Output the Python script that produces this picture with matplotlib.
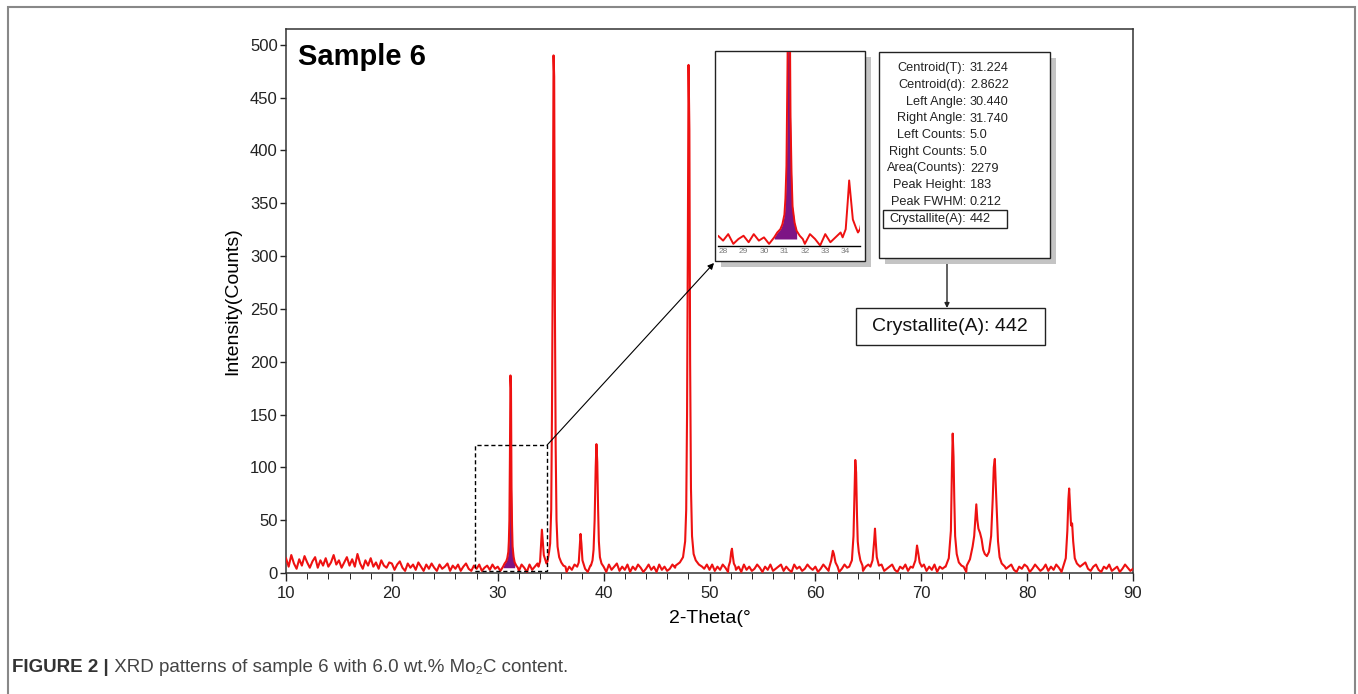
import matplotlib.pyplot as plt
import numpy as np
from matplotlib.patches import Rectangle

# background counts, 0.25 deg steps from 10 to 90
bg_10_20 = [14, 6, 17, 9, 4, 13, 7, 16, 10, 5, 11, 15, 5, 12, 7, 14, 6, 10, 17, 8,
            12, 5, 10, 15, 7, 13, 6, 18, 9, 4, 12, 7, 14, 6, 10, 4, 12, 7, 5, 10]
bg_20_30 = [9, 3, 8, 11, 5, 2, 9, 5, 8, 3, 10, 6, 2, 8, 4, 9, 5, 2, 8, 4,
            6, 9, 2, 7, 4, 8, 2, 6, 9, 4, 2, 7, 4, 8, 2, 5, 7, 3, 8, 4]
bg_30_40 = [6, 2, 8, 4, 9, 2, 7, 4, 2, 8, 5, 1, 8, 3, 6, 9, 2, 5, 8, 1,
            6, 3, 8, 4, 2, 7, 1, 6, 3, 8, 5, 2, 9, 4, 1, 7, 3, 6, 8, 2]
bg_40_50 = [6, 1, 8, 3, 6, 9, 2, 6, 3, 8, 1, 6, 3, 8, 5, 1, 4, 8, 3, 6,
            1, 8, 3, 6, 2, 4, 8, 5, 1, 6, 8, 3, 6, 2, 8, 3, 6, 1, 4, 8]
bg_50_60 = [3, 8, 2, 6, 3, 8, 5, 1, 4, 8, 3, 6, 1, 8, 3, 6, 2, 4, 8, 5,
            1, 6, 3, 8, 2, 4, 6, 8, 2, 6, 3, 1, 8, 4, 6, 2, 4, 8, 5, 3]
bg_60_70 = [6, 1, 4, 8, 5, 2, 8, 3, 6, 1, 4, 8, 5, 3, 1, 8, 3, 6, 2, 6,
            8, 3, 1, 6, 4, 8, 2, 4, 6, 8, 3, 1, 6, 4, 8, 2, 6, 3, 8, 4]
bg_70_80 = [3, 8, 2, 6, 3, 8, 1, 6, 4, 6, 8, 3, 2, 6, 8, 3, 6, 1, 4, 8,
            5, 2, 4, 8, 6, 3, 8, 2, 6, 4, 8, 1, 4, 6, 8, 3, 1, 6, 4, 8]
bg_80_90 = [6, 1, 4, 8, 5, 2, 4, 8, 2, 6, 3, 8, 5, 1, 4, 8, 3, 9, 4, 10,
            5, 8, 10, 4, 2, 6, 8, 3, 1, 6, 4, 8, 2, 4, 6, 1, 4, 8, 5, 2, 4]

# peak profiles (2-theta, counts)
pk_31 = [(30.5, 6), (30.65, 9), (30.8, 11), (30.9, 14), (31.0, 20), (31.05, 30),
         (31.1, 50), (31.15, 110), (31.2, 187), (31.25, 175), (31.3, 80),
         (31.35, 45), (31.4, 25), (31.5, 15), (31.6, 10), (31.75, 7), (31.9, 5)]
pk_35 = [(33.85, 6), (34.0, 11), (34.1, 28), (34.17, 41), (34.25, 30), (34.35, 17),
         (34.5, 12), (34.6, 9), (34.7, 11), (34.85, 20), (34.95, 28), (35.05, 60),
         (35.12, 150), (35.2, 300), (35.27, 490), (35.33, 470), (35.4, 250),
         (35.47, 120), (35.55, 50), (35.65, 25), (35.8, 15), (36.0, 10), (36.2, 7),
         (36.4, 6)]
pk_38 = [(37.5, 6), (37.65, 10), (37.75, 25), (37.82, 37), (37.9, 28), (38.0, 12),
         (38.15, 7)]
pk_39 = [(38.8, 7), (38.95, 12), (39.05, 22), (39.15, 50), (39.25, 100), (39.32, 122),
         (39.4, 105), (39.48, 60), (39.55, 30), (39.65, 15), (39.8, 9), (40.0, 6)]
pk_48 = [(46.8, 7), (47.2, 10), (47.5, 15), (47.7, 30), (47.8, 60), (47.88, 150),
         (47.95, 300), (48.02, 481), (48.1, 420), (48.17, 200), (48.25, 80),
         (48.35, 35), (48.5, 18), (48.7, 12), (49.0, 8), (49.3, 6)]
pk_52 = [(51.8, 6), (51.95, 11), (52.05, 20), (52.12, 23), (52.2, 16), (52.3, 9),
         (52.45, 6)]
pk_62 = [(61.3, 5), (61.5, 12), (61.65, 21), (61.75, 18), (61.9, 10), (62.1, 6)]
pk_64 = [(63.2, 6), (63.45, 12), (63.6, 35), (63.7, 80), (63.77, 107), (63.85, 95),
         (63.93, 55), (64.0, 30), (64.1, 20), (64.25, 12), (64.45, 7)]
pk_66 = [(65.2, 6), (65.4, 12), (65.55, 30), (65.63, 42), (65.7, 30), (65.8, 15),
         (66.0, 7)]
pk_70 = [(69.2, 5), (69.45, 12), (69.6, 26), (69.7, 20), (69.85, 10), (70.05, 6)]
pk_73 = [(72.3, 6), (72.6, 14), (72.8, 40), (72.9, 100), (72.97, 132), (73.05, 110),
         (73.12, 70), (73.2, 35), (73.35, 18), (73.55, 10), (73.8, 7)]
pk_76 = [(74.3, 7), (74.6, 13), (74.85, 25), (75.0, 35), (75.1, 50), (75.2, 65),
         (75.3, 50), (75.4, 42), (75.55, 38), (75.7, 32), (75.85, 22), (76.0, 18),
         (76.2, 16), (76.4, 20), (76.6, 35), (76.75, 70), (76.85, 100), (76.95, 108),
         (77.05, 80), (77.15, 55), (77.25, 30), (77.4, 15), (77.6, 9), (77.9, 6)]
pk_84 = [(83.4, 6), (83.65, 14), (83.8, 40), (83.9, 70), (83.97, 80), (84.05, 65),
         (84.15, 45), (84.25, 47), (84.35, 30), (84.5, 14), (84.7, 9), (85.0, 6)]
peaks = [pk_31, pk_35, pk_38, pk_39, pk_48, pk_52, pk_62, pk_64, pk_66, pk_70,
         pk_73, pk_76, pk_84]

fill_left, fill_right, fill_base = 30.44, 31.74, 5.0

stat_names = ['Centroid(T):', 'Centroid(d):', 'Left Angle:', 'Right Angle:',
              'Left Counts:', 'Right Counts:', 'Area(Counts):', 'Peak Height:',
              'Peak FWHM:', 'Crystallite(A):']
stat_values = ['31.224', '2.8622', '30.440', '31.740', '5.0', '5.0', '2279', '183',
               '0.212', '442']

W, H = 1358, 694


def fx(px):
    return px / W


def fy(py):
    return 1 - py / H


def build_trace():
    tb = np.arange(321) * 0.25 + 10
    cb = np.array(bg_10_20 + bg_20_30 + bg_30_40 + bg_40_50 + bg_50_60 +
                  bg_60_70 + bg_70_80 + bg_80_90, dtype=float)
    keep = np.ones(len(tb), bool)
    for pk in peaks:
        keep &= ~((tb >= pk[0][0] - 0.01) & (tb <= pk[-1][0] + 0.01))
    t = list(tb[keep])
    c = list(cb[keep])
    for pk in peaks:
        t += [p[0] for p in pk]
        c += [p[1] for p in pk]
    order = np.argsort(t)
    return np.array(t)[order], np.array(c)[order]


def main():
    plt.rcParams['font.family'] = ['Liberation Sans', 'DejaVu Sans']
    theta, counts = build_trace()

    fig = plt.figure(figsize=(W / 100, H / 100), dpi=100)
    ax = fig.add_axes([fx(286), fy(573), fx(1133) - fx(286), (573 - 29) / H])

    red = '#ee1111'
    purple = '#7d1585'
    inreg = (theta >= fill_left) & (theta <= fill_right)
    ax.fill_between(theta, fill_base, counts, where=inreg, color=purple, lw=0, zorder=2)
    ax.plot(theta, counts, color=red, lw=1.5, zorder=3)
    ax.set_xlim(10, 90)
    ax.set_ylim(0, 515)
    ax.set_xticks(np.arange(10, 91, 10))
    ax.set_xticks(np.arange(10, 91, 2), minor=True)
    ax.set_yticks(np.arange(0, 501, 50))
    ax.tick_params(axis='both', labelsize=12, colors='#222222', width=1)
    ax.tick_params(axis='x', which='major', length=6)
    ax.tick_params(axis='x', which='minor', length=4)
    ax.tick_params(axis='y', length=4, pad=2)
    for s in ax.spines.values():
        s.set_color('#333333')
        s.set_linewidth(1.1)
    ax.set_xlabel('2-Theta(°', fontsize=14, labelpad=6)
    ax.set_ylabel('Intensity(Counts)', fontsize=14, labelpad=6)
    ax.text(0.014, 0.975, 'Sample 6', transform=ax.transAxes, fontsize=21,
            fontweight='bold', va='top', ha='left')

    # dashed zoom window + connector arrow
    ax.add_patch(Rectangle((27.85, 2), 6.8, 119, fill=False, ls=(0, (3, 2)),
                           lw=1, color='black', zorder=4))
    ax.annotate('', xy=(fx(714), fy(263)), xycoords='figure fraction',
                xytext=(34.65, 121), textcoords='data', annotation_clip=False,
                arrowprops=dict(arrowstyle='-|>', lw=0.8, color='black',
                                mutation_scale=9, shrinkA=0, shrinkB=0))

    # boxes with drop shadows
    def box(x0, y0, x1, y1, shadow=True):
        if shadow:
            fig.add_artist(Rectangle((fx(x0 + 6), fy(y1 + 6)), (x1 - x0) / W,
                                     (y1 - y0) / H, transform=fig.transFigure,
                                     color='#c4c4c4', lw=0, zorder=1))
        fig.add_artist(Rectangle((fx(x0), fy(y1)), (x1 - x0) / W, (y1 - y0) / H,
                                 transform=fig.transFigure, facecolor='white',
                                 edgecolor='#222222', lw=1, zorder=1.5))

    box(715, 51, 865, 261)
    box(879, 52, 1050, 258)

    # inset
    ins = fig.add_axes([fx(718), fy(245.5), fx(860) - fx(718), (245.5 - 52) / H])
    ins.set_zorder(2)
    ins.patch.set_alpha(0)
    ins.fill_between(theta, fill_base, counts, where=inreg, color=purple, lw=0)
    ins.plot(theta, counts, color=red, lw=1.4)
    ins.set_xlim(27.75, 34.7)
    ins.set_ylim(1, 120)
    for k in ['top', 'left', 'right']:
        ins.spines[k].set_visible(False)
    ins.spines['bottom'].set_linewidth(1)
    ins.set_yticks([])
    ins.set_xticks(np.arange(28, 35))
    ins.tick_params(axis='x', labelsize=6, colors='#777777', length=0, pad=2)

    # statistics
    ys = [68, 85, 102, 118.5, 135, 152, 168.5, 185, 202, 219]
    for name, val, y in zip(stat_names, stat_values, ys):
        fig.text(fx(966), fy(y), name, ha='right', va='center', fontsize=9.2,
                 color='#222222', zorder=3)
        fig.text(fx(970), fy(y), val, ha='left', va='center', fontsize=9.2,
                 color='#222222', zorder=3)
    fig.add_artist(Rectangle((fx(883), fy(228.5)), 124 / W, 18.5 / H,
                             transform=fig.transFigure, fill=False,
                             edgecolor='#222222', lw=1, zorder=3))
    ax.annotate('', xy=(fx(947), fy(308)), xycoords='figure fraction',
                xytext=(fx(947), fy(228.5)), textcoords='figure fraction',
                annotation_clip=False,
                arrowprops=dict(arrowstyle='-|>', lw=1, color='#222222',
                                mutation_scale=7, shrinkA=0, shrinkB=0))
    box(856, 308, 1045, 345, shadow=False)
    fig.text(fx(950), fy(326.5), 'Crystallite(A): 442', ha='center', va='center',
             fontsize=14, color='#111111', zorder=3)

    # outer frame and caption
    fig.add_artist(Rectangle((fx(7.5), fy(720)), (1355 - 7.5) / W, (720 - 7) / H,
                             transform=fig.transFigure, fill=False,
                             edgecolor='#888888', lw=1.5))
    t1 = fig.text(fx(12), fy(668), 'FIGURE 2 |', ha='left', va='center',
                  fontsize=13.5, fontweight='bold', color='#333333')
    ax.annotate(' XRD patterns of sample 6 with 6.0 wt.% Mo\u2082C content.',
                xy=(1, 0.5), xycoords=t1, va='center', ha='left',
                fontsize=13.5, color='#444444', annotation_clip=False)

    fig.savefig('out.png', dpi=100)


if __name__ == '__main__':
    main()
